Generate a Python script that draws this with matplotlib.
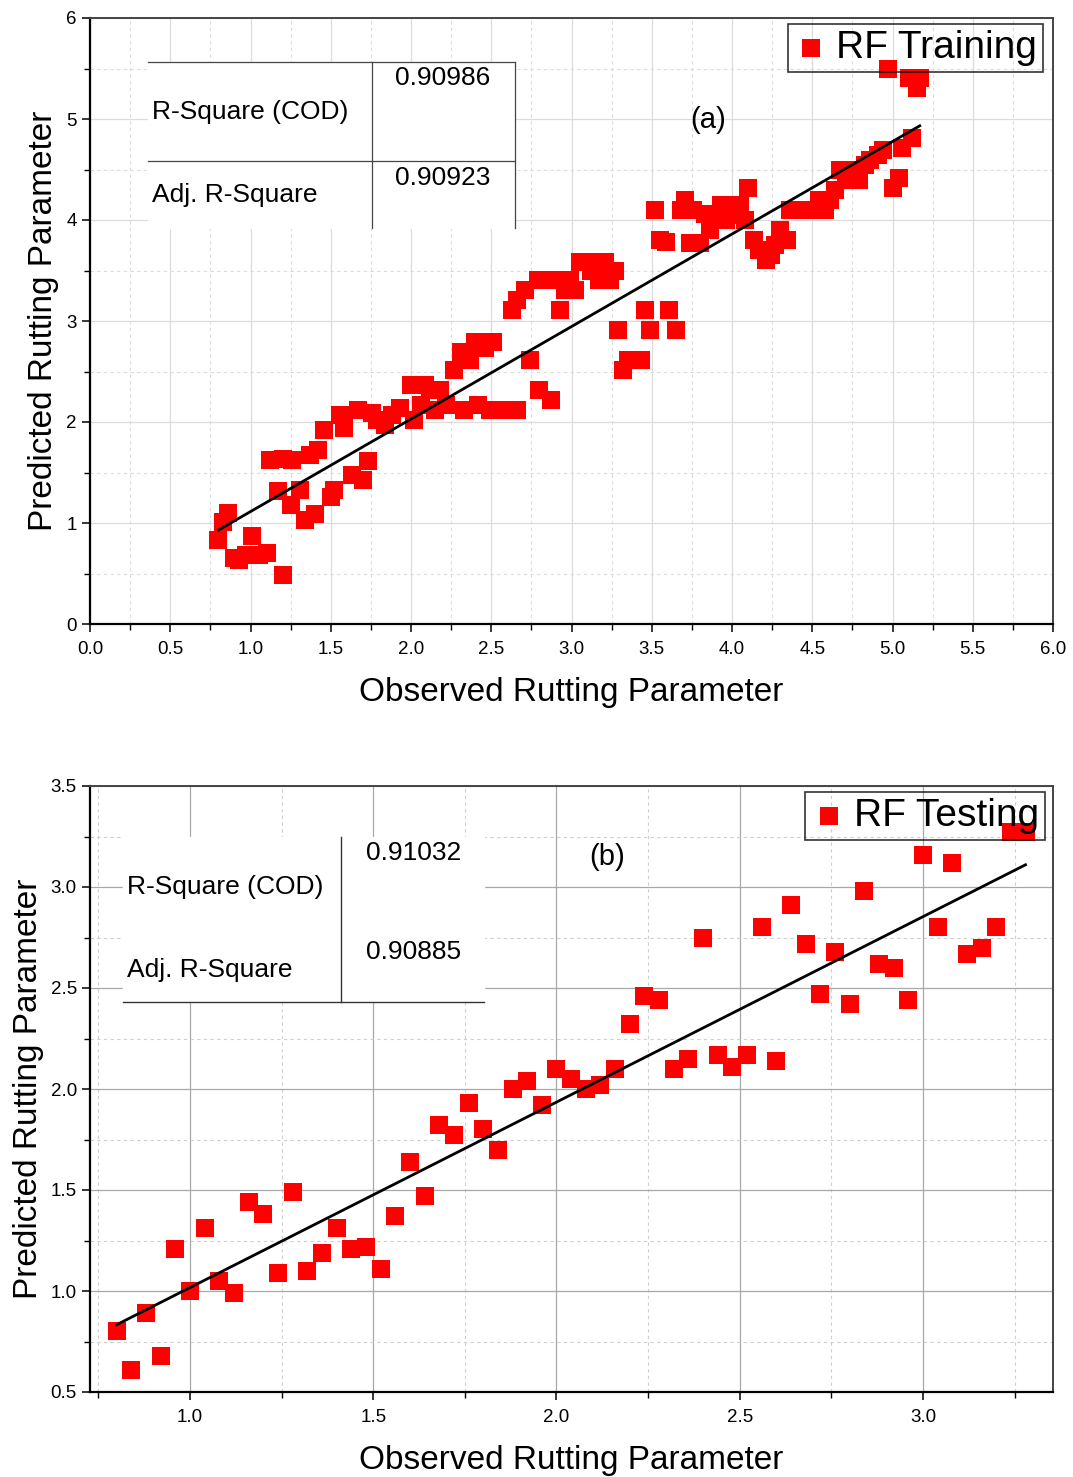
"""
RF observed vs predicted rutting parameter: training (a) and testing (b).
"""
import matplotlib
matplotlib.use("Agg")
import matplotlib.pyplot as plt
import matplotlib.ticker as ticker
import numpy as np

plt.rcParams["font.family"] = ["Liberation Sans", "DejaVu Sans"]

# ---------------------------------------------------------------------------
# Data
# ---------------------------------------------------------------------------

train_obs = [0.80, 0.83, 0.86, 0.90, 0.93, 0.97, 1.01, 1.05, 1.10, 1.20,
             1.12, 1.20, 1.26, 1.17, 1.25, 1.31, 1.34, 1.40, 1.37, 1.42,
             1.46, 1.50, 1.52, 1.56, 1.58, 1.63, 1.67, 1.70, 1.73, 1.76,
             1.79, 1.84, 1.88, 1.93, 2.00, 2.02, 2.06, 2.09, 2.12, 2.15,
             2.18, 2.22, 2.27, 2.31, 2.33, 2.37, 2.40, 2.42, 2.46, 2.49,
             2.51, 2.55, 2.60, 2.66, 2.63, 2.66, 2.71, 2.74, 2.79, 2.80,
             2.87, 2.90, 2.93, 2.96, 2.99, 3.02, 3.05, 3.12, 3.15, 3.17,
             3.21, 3.24, 3.27, 3.29, 3.32, 3.35, 3.43, 3.46, 3.49, 3.52,
             3.55, 3.59, 3.61, 3.65, 3.68, 3.71, 3.74, 3.76, 3.80, 3.83,
             3.86, 3.89, 3.93, 3.96, 3.99, 4.02, 4.05, 4.08, 4.10, 4.14,
             4.17, 4.21, 4.24, 4.27, 4.30, 4.34, 4.36, 4.42, 4.49, 4.54,
             4.58, 4.61, 4.64, 4.67, 4.71, 4.74, 4.79, 4.83, 4.86, 4.91,
             4.94, 4.97, 5.00, 5.04, 5.06, 5.10, 5.12, 5.15, 5.17]
train_pred = [0.83, 1.01, 1.10, 0.65, 0.63, 0.68, 0.87, 0.68, 0.70, 0.49,
              1.62, 1.63, 1.62, 1.32, 1.18, 1.33, 1.03, 1.09, 1.67, 1.72,
              1.92, 1.26, 1.33, 2.07, 1.94, 1.48, 2.12, 1.43, 1.61, 2.09,
              2.02, 1.97, 2.07, 2.14, 2.37, 2.02, 2.17, 2.37, 2.32, 2.12,
              2.32, 2.17, 2.51, 2.69, 2.12, 2.61, 2.79, 2.17, 2.73, 2.12,
              2.79, 2.12, 2.12, 2.12, 3.11, 3.21, 3.31, 2.61, 3.41, 2.32,
              2.22, 3.41, 3.11, 3.31, 3.41, 3.31, 3.58, 3.50, 3.58, 3.41,
              3.58, 3.41, 3.50, 2.91, 2.51, 2.61, 2.61, 3.11, 2.91, 4.10,
              3.80, 3.78, 3.11, 2.91, 4.10, 4.20, 3.77, 4.10, 3.77, 4.06,
              3.90, 4.00, 4.15, 4.00, 4.15, 4.05, 4.15, 4.00, 4.32, 3.80,
              3.70, 3.60, 3.65, 3.75, 3.90, 3.80, 4.10, 4.10, 4.10, 4.20,
              4.10, 4.20, 4.30, 4.50, 4.40, 4.50, 4.40, 4.54, 4.59, 4.64,
              4.69, 5.50, 4.32, 4.42, 4.71, 5.41, 4.81, 5.31, 5.41]

test_obs = [0.80, 0.84, 0.88, 0.92, 0.96, 1.00, 1.04, 1.08, 1.12, 1.16,
            1.20, 1.24, 1.28, 1.32, 1.36, 1.40, 1.44, 1.48, 1.52, 1.56,
            1.60, 1.64, 1.68, 1.72, 1.76, 1.80, 1.84, 1.88, 1.92, 1.96,
            2.00, 2.04, 2.08, 2.12, 2.16, 2.20, 2.24, 2.28, 2.32, 2.36,
            2.40, 2.44, 2.48, 2.52, 2.56, 2.60, 2.64, 2.68, 2.72, 2.76,
            2.80, 2.84, 2.88, 2.92, 2.96, 3.00, 3.04, 3.08, 3.12, 3.16,
            3.20, 3.24, 3.28]
test_pred = [0.80, 0.61, 0.89, 0.68, 1.21, 1.00, 1.31, 1.05, 0.99, 1.44,
             1.38, 1.09, 1.49, 1.10, 1.19, 1.31, 1.21, 1.22, 1.11, 1.37,
             1.64, 1.47, 1.82, 1.77, 1.93, 1.80, 1.70, 2.00, 2.04, 1.92,
             2.10, 2.05, 2.00, 2.02, 2.10, 2.32, 2.46, 2.44, 2.10, 2.15,
             2.75, 2.17, 2.11, 2.17, 2.80, 2.14, 2.91, 2.72, 2.47, 2.68,
             2.42, 2.98, 2.62, 2.60, 2.44, 3.16, 2.80, 3.12, 2.67, 2.70,
             2.80, 3.27, 3.27]

# linear fits as shown on the figure (slope, intercept)
train_fit = (0.916, 0.197)
test_fit = (0.918, 0.099)

train_stats = ["0.90986", "0.90923"]
test_stats = ["0.91032", "0.90885"]
stat_names = ["R-Square (COD)", "Adj. R-Square"]

RED = "#ff0000"
W, H = 1073, 1477


def px_axes(left, top, right, bottom):
    return [left / W, 1 - bottom / H, (right - left) / W, (bottom - top) / H]


def style_axes(ax, xlim, ylim, xmaj, xmin, ymaj, ymin, major_grid, minor_grid, yfmt):
    ax.set_xlim(*xlim)
    ax.set_ylim(*ylim)
    ax.xaxis.set_major_locator(ticker.MultipleLocator(xmaj))
    ax.xaxis.set_minor_locator(ticker.MultipleLocator(xmin))
    ax.yaxis.set_major_locator(ticker.MultipleLocator(ymaj))
    ax.yaxis.set_minor_locator(ticker.MultipleLocator(ymin))
    ax.xaxis.set_major_formatter(ticker.FormatStrFormatter("%.1f"))
    ax.yaxis.set_major_formatter(ticker.FormatStrFormatter(yfmt))
    ax.grid(True, which="major", color=major_grid, linewidth=0.9, linestyle="-")
    ax.grid(True, which="minor", color=minor_grid, linewidth=0.8, linestyle=(0, (3, 3)))
    ax.set_axisbelow(True)
    ax.tick_params(which="major", direction="out", length=6, width=1.1, labelsize=13.5)
    ax.tick_params(axis="x", which="major", pad=6)
    ax.tick_params(which="minor", direction="out", length=4, width=1.0)
    for side in ("left", "bottom"):
        ax.spines[side].set_linewidth(1.6)
        ax.spines[side].set_color("black")
    for side in ("top", "right"):
        ax.spines[side].set_linewidth(1.4)
        ax.spines[side].set_color("#444444")
    ax.set_xlabel("Observed Rutting Parameter", fontsize=24, labelpad=14)
    ax.set_ylabel("Predicted Rutting Parameter", fontsize=24, labelpad=5)


fig = plt.figure(figsize=(W / 100, H / 100), dpi=100)

# ---------------------------------------------------------------------------
# (a) training
# ---------------------------------------------------------------------------
ax1 = fig.add_axes(px_axes(90, 18, 1053, 624))
style_axes(ax1, (0, 6), (0, 6), 0.5, 0.25, 1, 0.5, "#dcdcdc", "#dcdcdc", "%d")

ax1.scatter(train_obs, train_pred, marker="s", s=150, color=RED, linewidths=0,
            label="RF Training", zorder=3)
xs = np.array([min(train_obs), max(train_obs)])
ax1.plot(xs, train_fit[0] * xs + train_fit[1], color="black", lw=2.0, zorder=4)

# stats table
ax1.fill_between([0.361, 2.648], 3.921, 5.564, color="white", zorder=2)
ax1.plot([0.361, 2.648], [5.564, 5.564], color="#444444", lw=0.9, zorder=2.5)
ax1.plot([0.361, 2.648], [4.584, 4.584], color="#444444", lw=0.9, zorder=2.5)
ax1.plot([1.757, 1.757], [3.921, 5.564], color="#444444", lw=0.9, zorder=2.5)
ax1.plot([2.648, 2.648], [3.921, 5.564], color="#444444", lw=0.9, zorder=2.5)
ax1.text(0.386, 5.069, stat_names[0], fontsize=19, va="center", ha="left", zorder=5)
ax1.text(0.386, 4.248, stat_names[1], fontsize=19, va="center", ha="left", zorder=5)
ax1.text(2.199, 5.406, train_stats[0], fontsize=19, va="center", ha="center", zorder=5)
ax1.text(2.199, 4.416, train_stats[1], fontsize=19, va="center", ha="center", zorder=5)
ax1.text(3.85, 4.99, "(a)", fontsize=21, va="center", ha="center")

leg1 = ax1.legend(loc="upper right", bbox_to_anchor=(1 - 10 / 963, 1 - 6 / 606),
                  borderaxespad=0, fontsize=28, frameon=True, fancybox=False,
                  handletextpad=0.2, borderpad=0.15, handlelength=0.9)
leg1.get_frame().set_edgecolor("black")
leg1.get_frame().set_facecolor("none")
leg1.get_frame().set_linewidth(1.2)

# ---------------------------------------------------------------------------
# (b) testing
# ---------------------------------------------------------------------------
ax2 = fig.add_axes(px_axes(90, 786, 1053, 1392))
style_axes(ax2, (0.727, 3.355), (0.5, 3.5), 0.5, 0.25, 0.5, 0.25,
           "#a8a8a8", "#cfcfcf", "%.1f")

ax2.scatter(test_obs, test_pred, marker="s", s=150, color=RED, linewidths=0,
            label="RF Testing", zorder=3)
xs = np.array([min(test_obs), max(test_obs)])
ax2.plot(xs, test_fit[0] * xs + test_fit[1], color="black", lw=2.0, zorder=4)

ax2.fill_between([0.817, 1.803], 2.431, 3.248, color="white", zorder=2)
ax2.plot([0.817, 1.803], [2.431, 2.431], color="#333333", lw=1.0, zorder=2.5)
ax2.plot([1.413, 1.413], [2.431, 3.248], color="#333333", lw=1.0, zorder=2.5)
ax2.text(0.828, 3.0, stat_names[0], fontsize=19, va="center", ha="left", zorder=5)
ax2.text(0.828, 2.589, stat_names[1], fontsize=19, va="center", ha="left", zorder=5)
ax2.text(1.609, 3.168, test_stats[0], fontsize=19, va="center", ha="center", zorder=5)
ax2.text(1.609, 2.678, test_stats[1], fontsize=19, va="center", ha="center", zorder=5)
ax2.text(2.137, 3.149, "(b)", fontsize=21, va="center", ha="center")

leg2 = ax2.legend(loc="upper right", bbox_to_anchor=(1 - 8 / 963, 1 - 6 / 606),
                  borderaxespad=0, fontsize=28, frameon=True, fancybox=False,
                  handletextpad=0.2, borderpad=0.15, handlelength=0.9)
leg2.get_frame().set_edgecolor("black")
leg2.get_frame().set_facecolor("none")
leg2.get_frame().set_linewidth(1.2)

fig.savefig("out.png", dpi=100)
